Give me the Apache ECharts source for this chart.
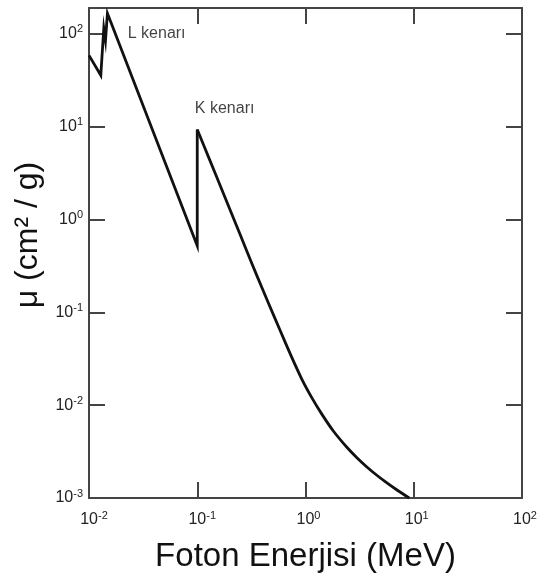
<!DOCTYPE html>
<html>
<head>
<meta charset="utf-8">
<script src="https://cdn.jsdelivr.net/npm/echarts@6/dist/echarts.min.js"></script>
<style>
html,body{margin:0;padding:0;background:#fff;}
#c{width:537px;height:574px;}
</style>
</head>
<body>
<div id="c"></div>
<script>
// L-edge region and the straight fall down to the K edge (MeV, cm^2/g)
const lEnergy = [0.01, 0.01285, 0.0137, 0.0142, 0.0148, 0.1, 0.1];
const lMu     = [58.4, 35.6, 114, 84.7, 166, 0.52, 9.3];
// K-edge and the high-energy tail
const kEnergy = [0.1, 0.13, 0.17, 0.2185, 0.28, 0.357, 0.45, 0.582, 0.74, 0.924, 1.15, 1.415, 1.8, 2.41, 3.0, 3.69, 4.5, 5.45, 7.0, 9.08];
const kMu     = [9.3, 4.4, 2.05, 1.0, 0.49, 0.245, 0.129, 0.064, 0.0335, 0.0191, 0.0119, 0.0080, 0.0053, 0.00352, 0.0027, 0.00216, 0.00178, 0.0015, 0.00122, 0.001];
// axis ranges
const xRange = [0.01, 100];
const yRange = [0.001, 189];
const xTitle = 'Foton Enerjisi (MeV)';
const yTitle = 'μ (cm² / g)';
const notes = [{text: 'L kenarı', energy: 0.0228, mu: 100}, {text: 'K kenarı', energy: 0.095, mu: 15.7}];

const FONT = 'Liberation Sans, Arial, sans-serif';
function expOf(v) {
  const e = Math.log10(v);
  const r = Math.round(e);
  return Math.abs(e - r) > 1e-6 ? null : r;
}
function xLabel(v) {
  const r = expOf(v);
  if (r === null) return '';
  return (r < 0 ? '{pn|}' : '{pp|}') + '{b|10}{s|' + (r < 0 ? '-' + (-r) : r) + '}';
}
function yLabel(v) {
  const r = expOf(v);
  if (r === null) return '';
  return '{b|10}{s|' + (r < 0 ? '-' + (-r) : r) + '}';
}
const richX = {
  pn: {width: 10, fontSize: 11},
  pp: {width: 6, fontSize: 11},
  b: {fontSize: 16, fontFamily: FONT, color: '#222', lineHeight: 20},
  s: {fontSize: 11, fontFamily: FONT, color: '#222', verticalAlign: 'top', lineHeight: 11}
};
const richY = {
  b: {fontSize: 16, fontFamily: FONT, color: '#222', lineHeight: 20},
  s: {fontSize: 11, fontFamily: FONT, color: '#222', verticalAlign: 'top', lineHeight: 11}
};
const axisCol = '#444';
function mkAxis(extra) {
  return Object.assign({
    type: 'log', logBase: 10,
    axisLine: {show: true, onZero: false, lineStyle: {color: axisCol, width: 2}},
    axisTick: {show: true, inside: true, length: 16, lineStyle: {color: axisCol, width: 2}},
    minorTick: {show: false},
    splitLine: {show: false},
    minorSplitLine: {show: false}
  }, extra);
}
const chart = echarts.init(document.getElementById('c'), null, {renderer: 'canvas'});
const series = [
  {type: 'line', data: lEnergy.map((x, i) => [x, lMu[i]])},
  {type: 'line', data: kEnergy.map((x, i) => [x, kMu[i]]), smooth: 0.25}
].map(s => Object.assign({
  xAxisIndex: 0, yAxisIndex: 0, symbol: 'none', clip: false, animation: false,
  lineStyle: {color: '#111', width: 2.8, join: 'miter', cap: 'butt'}
}, s));
series.push({
  type: 'scatter', xAxisIndex: 0, yAxisIndex: 0, symbolSize: 0, silent: true, animation: false,
  data: notes.map(n => ({value: [n.energy, n.mu], name: n.text})),
  label: {show: true, position: 'right', distance: 0, formatter: p => p.name, fontSize: 16,
          fontFamily: FONT, color: '#111'}
});
chart.setOption({
  animation: false,
  backgroundColor: '#fff',
  grid: {left: 89, right: 15, top: 8, bottom: 76, containLabel: false, outerBoundsMode: 'none'},
  xAxis: [
    mkAxis({position: 'bottom', min: xRange[0], max: xRange[1],
      name: xTitle, nameLocation: 'middle', nameGap: 42,
      nameTextStyle: {fontSize: 33, fontFamily: FONT, color: '#111'},
      axisLabel: {show: true, margin: 12, formatter: xLabel, rich: richX}}),
    mkAxis({position: 'top', min: xRange[0], max: xRange[1], axisLabel: {show: false}})
  ],
  yAxis: [
    mkAxis({position: 'left', min: yRange[0], max: yRange[1],
      name: yTitle, nameLocation: 'middle', nameGap: 45,
      nameTextStyle: {fontSize: 32, fontFamily: FONT, color: '#111', padding: [0, 0, 0, 36]},
      axisLabel: {show: true, margin: 6, formatter: yLabel, rich: richY, showMaxLabel: false}}),
    mkAxis({position: 'right', min: yRange[0], max: yRange[1], axisLabel: {show: false}})
  ],
  series: series
});
</script>
</body>
</html>
